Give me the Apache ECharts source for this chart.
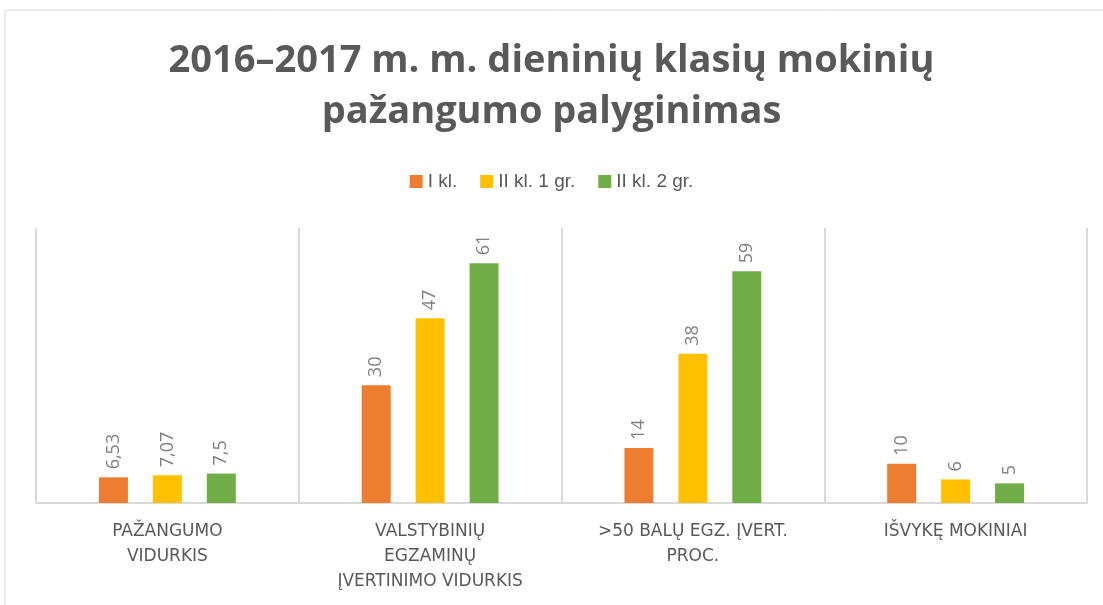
<!DOCTYPE html>
<html>
<head>
<meta charset="utf-8">
<script src="https://cdn.jsdelivr.net/npm/echarts@6/dist/echarts.min.js"></script>
<style>
  html, body { margin: 0; padding: 0; background: #fff; }
  #bar-chart { width: 1103px; height: 605px; }
</style>
</head>
<body>
<div id="bar-chart"></div>
<script>
var categories = [
    'PAŽANGUMO\nVIDURKIS',
    'VALSTYBINIŲ\nEGZAMINŲ\nĮVERTINIMO VIDURKIS',
    '>50 BALŲ EGZ. ĮVERT.\nPROC.',
    'IŠVYKĘ MOKINIAI'
];
var seriesNames = ['I kl.', 'II kl. 1 gr.', 'II kl. 2 gr.'];
var kl1 = [6.53, 30, 14, 10];
var kl2gr1 = [7.07, 47, 38, 6];
var kl2gr2 = [7.5, 61, 59, 5];

function barChart(){
    var chart = echarts.init(document.getElementById('bar-chart'));

    var label = {
        show: true,
        position: 'top',
        rotate: 90,
        align: 'left',
        verticalAlign: 'middle',
        distance: 8,
        color: '#808080',
        fontFamily: 'Open Sans',
        fontSize: 18,
        formatter: function(p){
            return String(p.value).replace('.', ',');
        }
    };

    function bar(name, data){
        return {
            name: name,
            type: 'bar',
            barWidth: 29,
            barGap: '86%',
            label: label,
            data: data
        };
    }

    var option = {
        color: ['#ed7d31', '#ffc000', '#70ad47'],
        animation: false,

        graphic: [{
            type: 'rect',
            shape: { x: 5, y: 10, width: 1200, height: 700 },
            style: { fill: 'none', stroke: '#d9d9d9', lineWidth: 1 },
            silent: true
        }],

        title: {
            text: '2016–2017 m. m. dieninių klasių mokinių\npažangumo palyginimas',
            left: 'center',
            top: 31,
            textStyle: {
                color: '#595959',
                fontFamily: 'Open Sans',
                fontWeight: 'bold',
                fontSize: 38,
                lineHeight: 51
            }
        },

        legend: {
            top: 167,
            left: 'center',
            itemWidth: 13,
            itemHeight: 13,
            itemGap: 23,
            icon: 'rect',
            textStyle: {
                color: '#595959',
                fontFamily: 'Liberation Sans',
                fontSize: 19
            },
            data: seriesNames
        },

        grid: {
            left: 36,
            right: 16,
            top: 228,
            bottom: 102
        },

        xAxis: [{
            type: 'category',
            data: categories,
            axisLine: { lineStyle: { color: '#d9d9d9', width: 2 } },
            axisTick: { show: false },
            splitLine: { show: true, lineStyle: { color: '#d9d9d9', width: 2 } },
            axisLabel: {
                interval: 0,
                margin: 16,
                color: '#595959',
                fontFamily: 'DejaVu Sans',
                fontSize: 17,
                lineHeight: 25
            }
        }],
        yAxis: [{
            type: 'value',
            min: 0,
            max: 70,
            show: false,
            splitLine: { show: false }
        }],

        series: [
            bar(seriesNames[0], kl1),
            bar(seriesNames[1], kl2gr1),
            bar(seriesNames[2], kl2gr2)
        ]
    };

    chart.setOption(option);
    window.onresize = function(){
        chart.resize();
    };
}

barChart();
</script>
</body>
</html>
